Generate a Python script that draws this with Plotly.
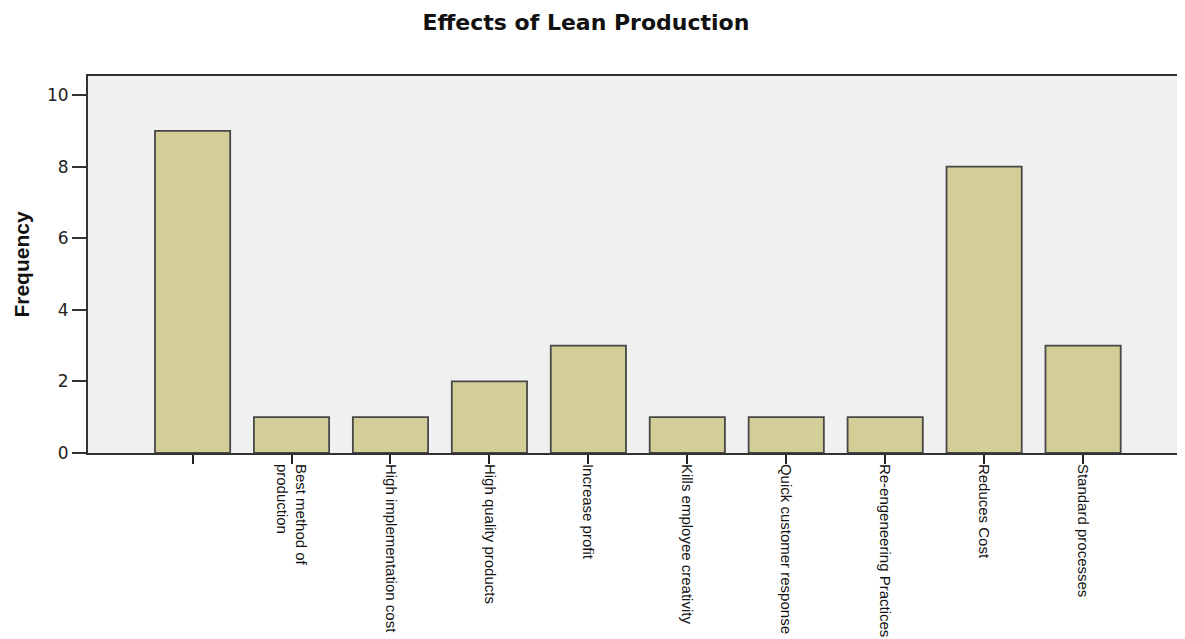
import plotly.graph_objects as go

categories = [
    "",
    "Best method of<br>production",
    "High implementation cost",
    "High quality products",
    "Increase profit",
    "Kills employee creativity",
    "Quick customer response",
    "Re-engeneering Practices",
    "Reduces Cost",
    "Standard processes",
]
frequency = [9, 1, 1, 2, 3, 1, 1, 1, 8, 3]
y_ticks = [0, 2, 4, 6, 8, 10]

positions = list(range(len(categories)))

fig = go.Figure(
    go.Bar(
        x=positions,
        y=frequency,
        marker=dict(color="#D3CE97", line=dict(color="#474747", width=1.8)),
        width=0.76,
    )
)

label_font = "Liberation Sans, Arial, sans-serif"

fig.update_layout(
    width=1177,
    height=631,
    margin=dict(l=80, r=0, t=68, b=186),
    paper_bgcolor="white",
    plot_bgcolor="#F0F0F0",
    showlegend=False,
    title=dict(
        text="<b>Effects of Lean Production</b>",
        x=0.491,
        xanchor="center",
        y=0.978,
        yanchor="middle",
        font=dict(family="DejaVu Sans, sans-serif", size=22, color="#111"),
    ),
)

fig.update_xaxes(
    range=[-1.057, 10.03],
    tickmode="array",
    tickvals=positions,
    ticktext=categories,
    tickangle=90,
    ticks="outside",
    ticklen=9,
    tickwidth=1.5,
    tickcolor="#222",
    ticklabelstandoff=-3,
    showline=True,
    linecolor="#333",
    linewidth=1.8,
    mirror=True,
    showgrid=False,
    zeroline=False,
    automargin=False,
    tickfont=dict(family=label_font, size=15, color="#111"),
)

fig.update_yaxes(
    range=[0, 10.53],
    tickmode="array",
    tickvals=y_ticks,
    ticks="outside",
    ticklen=14,
    tickwidth=1.5,
    tickcolor="#333",
    showline=True,
    linecolor="#333",
    linewidth=1.8,
    showgrid=False,
    zeroline=False,
    automargin=False,
    tickfont=dict(family="DejaVu Sans, sans-serif", size=17, color="#222"),
    title=dict(
        text="<b>Frequency</b>",
        font=dict(family=label_font, size=21, color="#111"),
        standoff=12,
    ),
)

fig.write_html("out.html")
